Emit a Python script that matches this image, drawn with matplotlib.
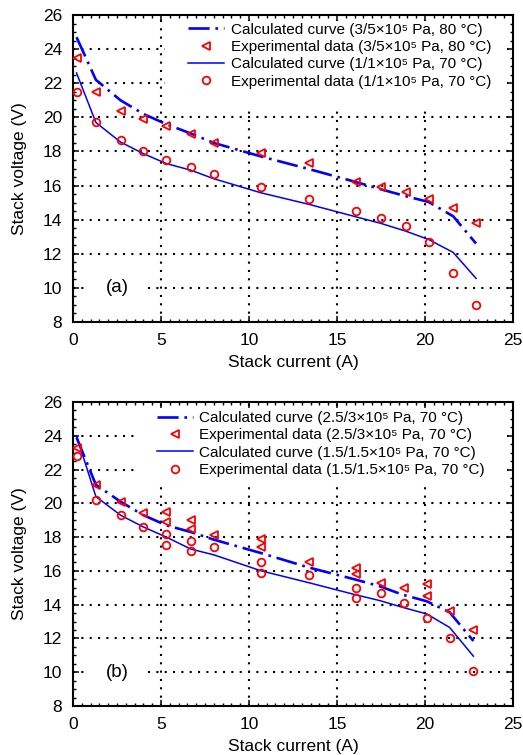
import matplotlib
matplotlib.use("Agg")
import matplotlib.pyplot as plt
from matplotlib.patches import Rectangle
from matplotlib.ticker import MultipleLocator

plt.rcParams["font.family"] = ["Liberation Sans", "DejaVu Sans"]

# ---- panel (a) data ----
current_a = [0.2, 1.3, 2.7, 4.0, 5.3, 6.7, 8.0, 10.7, 13.4, 16.1, 17.5, 18.9, 20.2, 21.6, 22.9]
calc_hi_a = [24.7, 22.2, 21.0, 20.2, 19.6, 19.05, 18.5, 17.7, 16.97, 16.2, 15.78, 15.38, 15.04, 14.2, 12.6]
exp_hi_a = [23.5, 21.5, 20.4, 19.9, 19.5, 19.0, 18.5, 17.9, 17.3, 16.2, 15.9, 15.6, 15.2, 14.7, 13.8]
calc_lo_a = [22.6, 19.7, 18.55, 17.87, 17.29, 16.9, 16.4, 15.57, 14.9, 14.16, 13.78, 13.33, 12.84, 12.08, 10.56]
exp_lo_a = [21.5, 19.7, 18.7, 18.0, 17.5, 17.1, 16.7, 15.9, 15.2, 14.5, 14.1, 13.6, 12.7, 10.9, 9.0]

labels_a = [
    "Calculated curve (3/5\u00d710\u2075 Pa, 80 \u00b0C)",
    "Experimental data (3/5\u00d710\u2075 Pa, 80 \u00b0C)",
    "Calculated curve (1/1\u00d710\u2075 Pa, 70 \u00b0C)",
    "Experimental data (1/1\u00d710\u2075 Pa, 70 \u00b0C)",
]

# ---- panel (b) data ----
current_b = [0.2, 1.3, 2.7, 4.0, 5.3, 6.7, 8.0, 10.7, 13.4, 16.0, 17.4, 18.7, 20.1, 21.4, 22.75]
calc_hi_b = [23.9, 21.1, 20.1, 19.3, 18.7, 18.3, 17.85, 17.05, 16.2, 15.5, 15.1, 14.6, 14.2, 13.55, 11.85]
calc_lo_b = [24.0, 20.4, 19.3, 18.6, 18.0, 17.29, 16.95, 16.0, 15.3, 14.6, 14.25, 13.85, 13.45, 12.65, 10.95]

exp_hi_b_x = [0.2, 1.3, 2.7, 4.0, 5.3, 5.3, 6.7, 6.7, 8.0, 10.7, 10.7, 13.4,
              16.1, 16.1, 17.5, 18.8, 20.1, 20.1, 21.4, 22.75]
exp_hi_b = [23.3, 21.1, 20.1, 19.4, 19.5, 18.9, 19.0, 18.5, 18.1, 17.9, 17.4, 16.5,
            16.2, 15.8, 15.3, 15.0, 15.2, 14.5, 13.6, 12.5]
exp_lo_b_x = [0.2, 1.3, 2.7, 4.0, 5.3, 5.3, 6.7, 6.7, 8.0, 10.7, 10.7, 13.4,
              16.1, 16.1, 17.5, 18.8, 20.1, 21.4, 22.75]
exp_lo_b = [22.8, 20.2, 19.3, 18.6, 18.2, 17.55, 17.75, 17.15, 17.4, 16.5, 15.9, 15.75,
            15.0, 14.4, 14.7, 14.1, 13.2, 12.0, 10.1]

labels_b = [
    "Calculated curve (2.5/3\u00d710\u2075 Pa, 70 \u00b0C)",
    "Experimental data (2.5/3\u00d710\u2075 Pa, 70 \u00b0C)",
    "Calculated curve (1.5/1.5\u00d710\u2075 Pa, 70 \u00b0C)",
    "Experimental data (1.5/1.5\u00d710\u2075 Pa, 70 \u00b0C)",
]

x_ticks = [0, 5, 10, 15, 20, 25]
y_ticks = [8, 10, 12, 14, 16, 18, 20, 22, 24, 26]

BLUE = "#0000ff"
RED = "#ff0000"
DASHDOT = (0, (8, 2.2, 1, 2.2))
GRID = (0, (1, 3))

fig = plt.figure(figsize=(5.23, 7.55), dpi=100)
ax_a = fig.add_axes([73 / 523, 1 - 322 / 755, 440 / 523, 307 / 755])
ax_b = fig.add_axes([73 / 523, 1 - 706 / 755, 440 / 523, 304 / 755])


def draw_panel(ax, xc, hi_calc, lo_calc, xe_hi, hi_exp, xe_lo, lo_exp,
               labels, tag, mask_box, leg_anchor):
    # dotted grid on major ticks, kept under the data
    for xv in x_ticks[1:-1]:
        ax.axvline(xv, color="k", lw=1.5, ls=GRID, zorder=0.8)
    for yv in y_ticks[1:-1]:
        ax.axhline(yv, color="k", lw=1.5, ls=GRID, zorder=0.8)

    # white area behind the legend
    ax.add_patch(Rectangle((mask_box[0], mask_box[1]), mask_box[2], mask_box[3],
                           transform=ax.transAxes, facecolor="white",
                           edgecolor="none", zorder=1))

    h1, = ax.plot(xc, hi_calc, color=BLUE, lw=1.9, ls=DASHDOT, zorder=2)
    h2, = ax.plot(xe_hi, hi_exp, ls="none", marker="<", ms=6, mfc="none",
                  mec=RED, mew=1.3, zorder=3)
    h3, = ax.plot(xc, lo_calc, color=BLUE, lw=1.1, zorder=2)
    h4, = ax.plot(xe_lo, lo_exp, ls="none", marker="o", ms=5.5, mfc="none",
                  mec=RED, mew=1.3, zorder=3)

    ax.legend([h1, h2, h3, h4], labels, loc="upper left",
              bbox_to_anchor=leg_anchor, bbox_transform=ax.transAxes,
              frameon=False, fontsize=11, handlelength=2.35,
              handletextpad=0.45, labelspacing=0.22, borderpad=0,
              borderaxespad=0, numpoints=1)

    ax.text(2.5, 10.0, tag, fontsize=13.5, ha="center", va="center", zorder=3,
            bbox=dict(facecolor="white", edgecolor="none", pad=13))

    ax.set_xlim(0, 25)
    ax.set_ylim(8, 26)
    ax.set_xticks(x_ticks)
    ax.set_yticks(y_ticks)
    ax.xaxis.set_minor_locator(MultipleLocator(0.5))
    ax.yaxis.set_minor_locator(MultipleLocator(0.5))
    ax.tick_params(which="both", direction="in", top=True, right=True,
                   labelsize=12.5, pad=8)
    ax.tick_params(which="major", length=4, width=1.1)
    ax.tick_params(which="minor", length=2.2, width=1.0)
    for s in ax.spines.values():
        s.set_linewidth(1.5)
    ax.set_xlabel("Stack current (A)", fontsize=12.5, labelpad=5)
    ax.set_ylabel("Stack voltage (V)", fontsize=12.5, labelpad=11)


draw_panel(ax_a, current_a, calc_hi_a, calc_lo_a, current_a, exp_hi_a,
           current_a, exp_lo_a, labels_a, "(a)",
           (0.209, 0.689, 0.777, 0.292), (0.261, 0.975))
draw_panel(ax_b, current_b, calc_hi_b, calc_lo_b, exp_hi_b_x, exp_hi_b,
           exp_lo_b_x, exp_lo_b, labels_b, "(b)",
           (0.148, 0.72, 0.838, 0.262), (0.19, 0.97))

fig.savefig("out.png", dpi=100)
